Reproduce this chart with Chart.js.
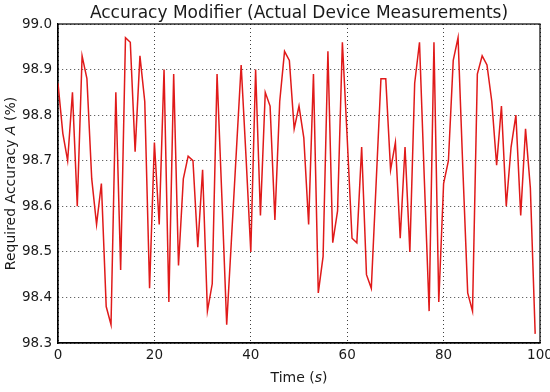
<!DOCTYPE html>
<html>
<head>
<meta charset="utf-8">
<script src="https://cdn.jsdelivr.net/npm/chart.js@4/dist/chart.umd.min.js"></script>
<style>
  html, body { margin: 0; padding: 0; background: #fff; }
  #wrap { width: 550px; height: 392px; }
</style>
</head>
<body>
<div id="wrap"><canvas id="accChart" width="550" height="392"></canvas></div>
<script>
const timeSec = [
  0, 1, 2, 3, 4, 5, 6, 7, 8, 9, 10, 11, 12, 13, 14, 15, 16, 17, 18, 19,
  20, 21, 22, 23, 24, 25, 26, 27, 28, 29, 30, 31, 32, 33, 34, 35, 36, 37, 38, 39,
  40, 41, 42, 43, 44, 45, 46, 47, 48, 49, 50, 51, 52, 53, 54, 55, 56, 57, 58, 59,
  60, 61, 62, 63, 64, 65, 66, 67, 68, 69, 70, 71, 72, 73, 74, 75, 76, 77, 78, 79,
  80, 81, 82, 83, 84, 85, 86, 87, 88, 89, 90, 91, 92, 93, 94, 95, 96, 97, 98, 99
];
const requiredAccuracy = [
  98.87, 98.76, 98.70, 98.85, 98.60, 98.93, 98.88, 98.66, 98.56, 98.65,
  98.38, 98.34, 98.85, 98.46, 98.97, 98.96, 98.72, 98.93, 98.83, 98.42,
  98.74, 98.56, 98.90, 98.39, 98.89, 98.47, 98.66, 98.71, 98.70, 98.51,
  98.68, 98.37, 98.43, 98.89, 98.62, 98.34, 98.53, 98.72, 98.91, 98.71,
  98.50, 98.90, 98.58, 98.85, 98.82, 98.57, 98.83, 98.94, 98.92, 98.77,
  98.82, 98.75, 98.56, 98.89, 98.41, 98.49, 98.94, 98.52, 98.59, 98.96,
  98.75, 98.53, 98.52, 98.73, 98.45, 98.42, 98.65, 98.88, 98.88, 98.68,
  98.74, 98.53, 98.73, 98.50, 98.87, 98.96, 98.66, 98.37, 98.96, 98.39,
  98.65, 98.70, 98.92, 98.97, 98.68, 98.41, 98.37, 98.89, 98.93, 98.91,
  98.83, 98.69, 98.82, 98.60, 98.73, 98.80, 98.58, 98.77, 98.64, 98.32
];
const xTicks = [0, 20, 40, 60, 80, 100];
const yTicks = [98.3, 98.4, 98.5, 98.6, 98.7, 98.8, 98.9, 99.0];

const FONT = "'DejaVu Sans', sans-serif";
const TEXT = '#1a1a1a';

// title and axis labels, drawn by hand so the math parts can be italic
const labelsPlugin = {
  id: 'labels',
  afterDraw(chart) {
    const ctx = chart.ctx;
    const a = chart.chartArea;
    const cx = (a.left + a.right) / 2;
    ctx.save();
    ctx.fillStyle = TEXT;
    ctx.textBaseline = 'alphabetic';
    ctx.textAlign = 'center';
    ctx.font = '17px ' + FONT;
    ctx.fillText('Accuracy Modifier (Actual Device Measurements)', cx, 18);

    const drawParts = (parts, x, y) => {
      let total = 0;
      parts.forEach(p => { ctx.font = p.f; total += ctx.measureText(p.t).width; });
      let px = x - total / 2;
      ctx.textAlign = 'left';
      parts.forEach(p => {
        ctx.font = p.f;
        ctx.fillText(p.t, px, y);
        px += ctx.measureText(p.t).width;
      });
    };
    const reg = '14px ' + FONT;
    const ita = 'italic 14px ' + FONT;
    drawParts([{ t: 'Time (', f: reg }, { t: 's', f: ita }, { t: ')', f: reg }], cx, 382);

    ctx.translate(15, (a.top + a.bottom) / 2);
    ctx.rotate(-Math.PI / 2);
    drawParts([{ t: 'Required Accuracy ', f: reg }, { t: 'A', f: ita }, { t: ' (%)', f: reg }], 0, 0);
    ctx.restore();
  }
};

new Chart(document.getElementById('accChart'), {
  type: 'line',
  data: {
    datasets: [{
      label: 'Required Accuracy',
      data: timeSec.map((t, i) => ({ x: t, y: requiredAccuracy[i] })),
      borderColor: '#e01a1a',
      borderWidth: 1.5,
      pointRadius: 0,
      fill: false,
      tension: 0
    }]
  },
  options: {
    responsive: false,
    animation: false,
    devicePixelRatio: 1,
    layout: { padding: { left: 0, right: 10, top: 24, bottom: 0 } },
    plugins: {
      legend: { display: false },
      tooltip: { enabled: false },
      title: { display: false }
    },
    scales: {
      x: {
        type: 'linear',
        min: 0,
        max: 100,
        afterBuildTicks: s => { s.ticks = xTicks.map(v => ({ value: v })); },
        afterFit: s => { s.height = 49; s.paddingLeft = 0; s.paddingRight = 0; },
        grid: { color: 'rgba(0,0,0,0.75)', lineWidth: 1, drawTicks: false },
        border: { display: true, color: '#000', width: 1.2, dash: [1, 3] },
        ticks: { color: TEXT, padding: 4, font: { family: FONT, size: 13.5 }, maxRotation: 0 }
      },
      y: {
        min: 98.3,
        max: 99.0,
        afterBuildTicks: s => { s.ticks = yTicks.map(v => ({ value: v })); },
        afterFit: s => { s.width = 58; s.paddingTop = 0; s.paddingBottom = 0; },
        grid: { color: 'rgba(0,0,0,0.75)', lineWidth: 1, drawTicks: false },
        border: { display: true, color: '#000', width: 1.2, dash: [1, 3] },
        ticks: {
          color: TEXT,
          padding: 6,
          font: { family: FONT, size: 13.5 },
          callback: v => v.toFixed(1)
        }
      }
    }
  },
  plugins: [labelsPlugin, {
    id: 'frame',
    beforeDatasetsDraw(chart) {
      // dotted grid inside, solid black box round the plot
      const { ctx, chartArea: a } = chart;
      ctx.save();
      ctx.strokeStyle = '#000';
      ctx.lineWidth = 1.2;
      ctx.strokeRect(a.left, a.top, a.right - a.left, a.bottom - a.top);
      ctx.restore();
    }
  }]
});
</script>
</body>
</html>
